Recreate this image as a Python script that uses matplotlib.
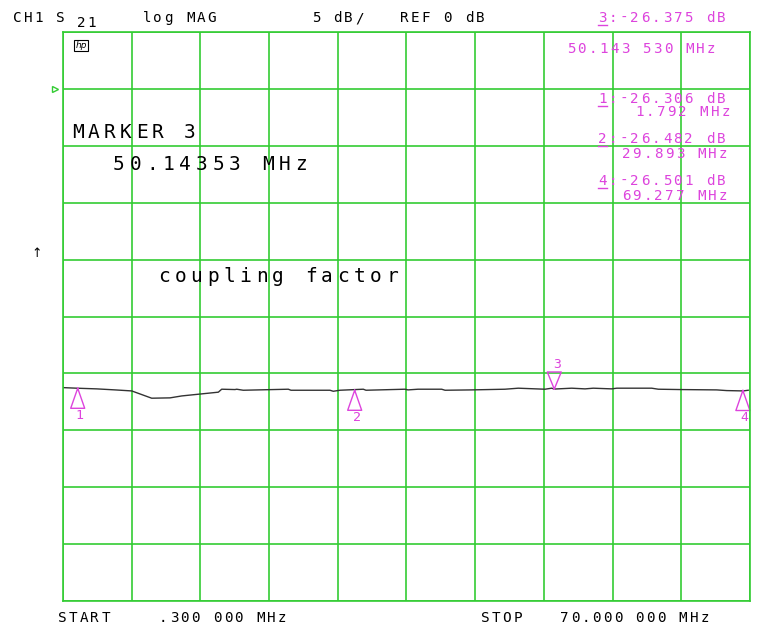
import matplotlib
matplotlib.use('Agg')
import matplotlib.pyplot as plt
from matplotlib.lines import Line2D

W, H = 783, 643

# trace: frequency (MHz) and S21 (dB)
freq = [0.33, 1.69, 3.72, 5.58, 7.27, 9.30, 11.16, 12.35, 14.03, 16.06, 16.40,
        17.75, 17.92, 18.59, 23.16, 23.43, 27.39, 27.72, 28.40, 30.77, 31.04,
        34.99, 35.30, 36.32, 38.72, 39.06, 41.77, 45.14, 46.49, 49.20, 49.88,
        50.14, 51.91, 53.26, 54.10, 55.97, 56.48, 60.03, 60.70, 62.90, 66.62,
        67.64, 69.32, 69.82]
s21 = [-26.25, -26.30, -26.36, -26.45, -26.54, -27.18, -27.15, -26.98, -26.83,
       -26.65, -26.39, -26.42, -26.39, -26.48, -26.39, -26.48, -26.48, -26.57,
       -26.48, -26.39, -26.48, -26.39, -26.45, -26.39, -26.39, -26.48, -26.45,
       -26.39, -26.30, -26.39, -26.30, -26.375, -26.30, -26.36, -26.30, -26.36,
       -26.30, -26.30, -26.39, -26.42, -26.45, -26.51, -26.54, -26.48]

mk_num = ['1', '2', '3', '4']
mk_freq = [1.792, 29.893, 50.14353, 69.277]
mk_val = [-26.306, -26.482, -26.375, -26.501]

f_start, f_stop = 0.3, 70.0
ref_db, db_div = 0, 5

green = '#33cc33'
mag = '#dd44dd'

fig = plt.figure(figsize=(W / 100, H / 100), dpi=100)
ax = fig.add_axes([63 / W, (H - 601) / H, 687 / W, 569 / H])
ax.set_xlim(f_start, f_stop)
ax.set_ylim(ref_db - 9 * db_div, ref_db + db_div)
ax.set_xticks([f_start + i * (f_stop - f_start) / 10 for i in range(11)])
ax.set_yticks([ref_db - 9 * db_div + i * db_div for i in range(11)])
ax.grid(True, color=green, lw=1.2)
ax.tick_params(length=0, labelbottom=False, labelleft=False)
for sp in ax.spines.values():
    sp.set_color(green)
    sp.set_linewidth(1.2)

ax.plot(freq, s21, color='#333333', lw=1.0)

# marker triangles, sized in data units (~14 x 20 px)
dx = 0.71
dy = 1.76
for n, f, v in zip(mk_num, mk_freq, mk_val):
    if n == '3':
        ax.plot([f, f - dx, f + dx, f], [v, v + 1.5, v + 1.5, v], color=mag, lw=1, clip_on=False)
        ax.text(f + 0.3, v + 2.2, n, color=mag, fontsize=9.5, ha='center', va='center',
                family='DejaVu Sans Mono')
    else:
        ax.plot([f, f - dx, f + dx, f], [v, v - dy, v - dy, v], color=mag, lw=1, clip_on=False)
        ax.text(f + 0.2, v - 2.35, n, color=mag, fontsize=9.5, ha='center', va='center',
                family='DejaVu Sans Mono')

# reference level pointer
ax.plot([-0.5], [ref_db], marker='>', ms=5, mfc='none', mec=green, clip_on=False)


def hp_text(x, y, s, pitch=10.8, size=10.3, color='black'):
    # one glyph per cell, like the analyzer's vector font
    for i, ch in enumerate(s):
        if ch != ' ':
            fig.text((x + i * pitch) / W, 1 - y / H, ch, fontsize=size, color=color,
                     family='DejaVu Sans Mono', ha='left', va='baseline', zorder=5)


def underline(x0, x1, y, color):
    fig.add_artist(Line2D([x0 / W, x1 / W], [1 - y / H, 1 - y / H], color=color,
                          lw=1, transform=fig.transFigure))


hp_text(13, 22, 'CH1 S')
hp_text(77, 27, '21')
hp_text(142.7, 22, 'log MAG')
hp_text(311.7, 22, '5 dB/')
hp_text(400, 22, 'REF 0 dB')
hp_text(598, 22, '3:-26.375 dB', color=mag)
underline(598, 607, 25, mag)
hp_text(566.7, 53, '50.143 530 MHz', color=mag)

hp_text(598, 103, '1:-26.306 dB', color=mag)
underline(598, 607, 106, mag)
hp_text(635, 116.5, '1.792 MHz', color=mag)
hp_text(598, 143, '2:-26.482 dB', color=mag)
underline(598, 607, 146, mag)
hp_text(621.7, 158, '29.893 MHz', color=mag)
hp_text(598, 185, '4:-26.501 dB', color=mag)
underline(598, 607, 188, mag)
hp_text(621.7, 200, '69.277 MHz', color=mag)

hp_text(71.7, 138.3, 'MARKER 3', pitch=16, size=14)
hp_text(113, 170, '50.14353 MHz', pitch=16.6, size=14)
hp_text(158, 282, 'coupling factor', pitch=16.3, size=14)

hp_text(58, 622, 'START')
hp_text(159, 622, '.300 000 MHz')
hp_text(481, 622, 'STOP')
hp_text(560, 622, '70.000 000 MHz')

fig.text(37 / W, 1 - 253 / H, '\u2191', fontsize=9, ha='center', va='center')
fig.text(81 / W, 1 - 45.5 / H, 'hp', fontsize=6.5, style='italic', ha='center', va='center',
         bbox=dict(boxstyle='square,pad=0.15', fc='white', ec='black', lw=0.8))

fig.savefig('out.png', dpi=100)
